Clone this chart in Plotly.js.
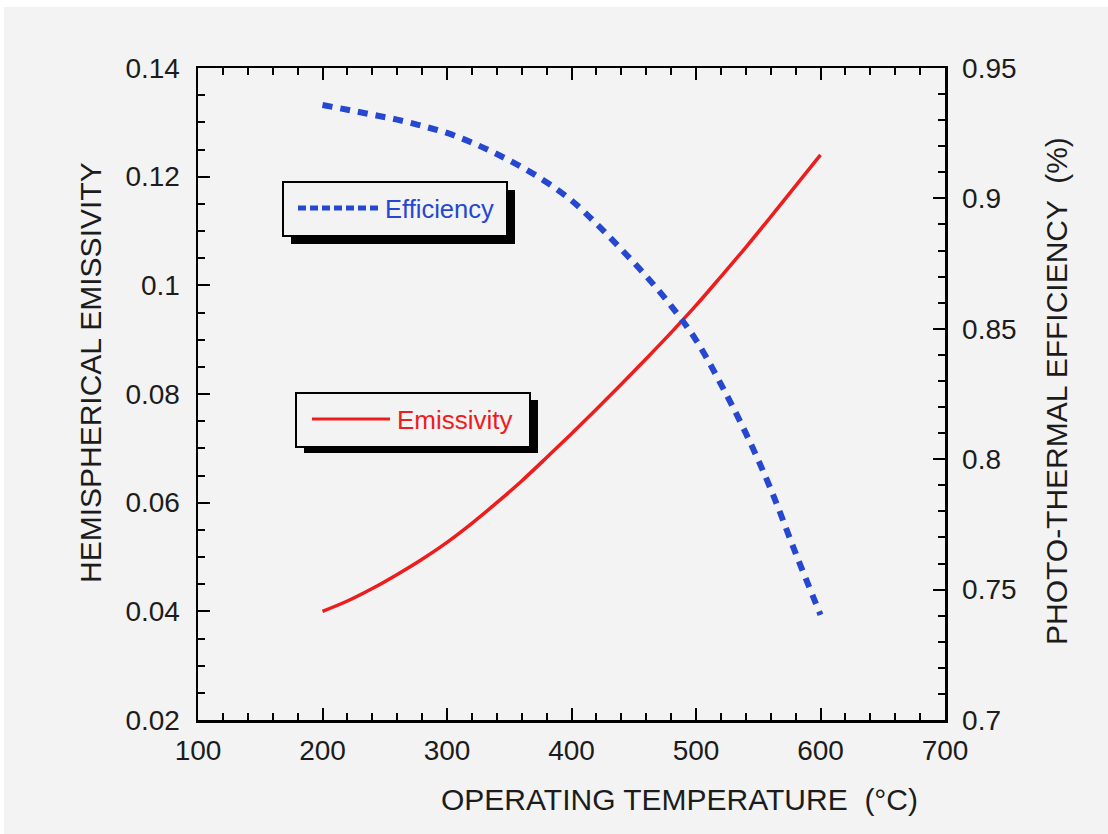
<!DOCTYPE html>
<html>
<head>
<meta charset="utf-8">
<script src="https://cdn.plot.ly/plotly-3.0.1.min.js"></script>
<style>
html,body{margin:0;padding:0;background:#ffffff;}
#chart{position:absolute;left:4px;top:7px;width:1104px;height:827px;}
</style>
</head>
<body>
<div id="chart"></div>
<script>
// Data
var temperature = [200,220,240,260,280,300,320,340,360,380,400,420,440,460,480,500,520,540,560,580,600];
var emissivity  = [0.0400,0.0419,0.0442,0.0468,0.0496,0.0527,0.0562,0.0600,0.0640,0.0683,0.0727,0.0772,0.0818,0.0865,0.0913,0.0963,0.1016,0.1070,0.1126,0.1183,0.1240];
var efficiency  = [0.9358,0.9340,0.9321,0.9302,0.9278,0.9251,0.9214,0.9170,0.9120,0.9062,0.8992,0.8903,0.8805,0.8702,0.8588,0.8457,0.8288,0.8100,0.7886,0.7640,0.7403];
var xTicks  = [100,200,300,400,500,600,700];
var yTicks  = [0.02,0.04,0.06,0.08,0.10,0.12,0.14];
var yTickText = ['0.02','0.04','0.06','0.08','0.1','0.12','0.14'];
var y2Ticks = [0.70,0.75,0.80,0.85,0.90,0.95];
var y2TickText = ['0.7','0.75','0.8','0.85','0.9','0.95'];

var FONT = 'Liberation Sans, Arial, sans-serif';
var INK = '#1c1c1c';
var BG = '#f3f3f3';
var BLUE = '#2647cf';
var RED = '#ee1d1d';

// plot area in page pixels: x 198..945, y 68..720
function px(x){ return (x-198)/747; }
function py(y){ return (720-y)/652; }

var traces = [
  {x: temperature, y: emissivity, type:'scatter', mode:'lines', name:'Emissivity',
   line:{color:RED, width:3.5, shape:'spline', smoothing:1}, yaxis:'y'},
  {x: temperature, y: efficiency, type:'scatter', mode:'lines', name:'Efficiency',
   line:{color:BLUE, width:6, dash:'10px,8px', shape:'spline', smoothing:1}, yaxis:'y2'}
];

function rect(x0,y0,x1,y1,fill,lw){
  return {type:'rect', xref:'paper', yref:'paper', x0:px(x0), x1:px(x1), y0:py(y1), y1:py(y0),
          fillcolor:fill, line:{color:'#000', width:lw}, layer:'above'};
}
function seg(x0,x1,y,color,w,dash){
  return {type:'line', xref:'paper', yref:'paper', x0:px(x0), x1:px(x1), y0:py(y), y1:py(y),
          line:{color:color, width:w, dash:dash}, layer:'above'};
}

var shapes = [
  rect(291,190,515,244,'#000',0),
  rect(283,182,507,236,BG,2),
  seg(298,378,208,BLUE,5,'8px,4px'),
  rect(304,400,538,453,'#000',0),
  rect(296,393,530,447,BG,2),
  seg(312,390,419,RED,3,'solid')
];

var annotations = [
  {text:'Efficiency', xref:'paper', yref:'paper', x:px(383), y:py(209), xanchor:'left', yanchor:'middle',
   showarrow:false, font:{family:FONT, size:25.5, color:BLUE}},
  {text:'Emissivity', xref:'paper', yref:'paper', x:px(395), y:py(420), xanchor:'left', yanchor:'middle',
   showarrow:false, font:{family:FONT, size:26, color:RED}},
  {text:'OPERATING TEMPERATURE  (°C)', xref:'paper', yref:'paper', x:px(679), y:py(799), xanchor:'center', yanchor:'middle',
   showarrow:false, font:{family:FONT, size:30, color:INK}},
  {text:'HEMISPHERICAL EMISSIVITY', xref:'paper', yref:'paper', x:px(90), y:py(373), xanchor:'center', yanchor:'middle',
   textangle:-90, showarrow:false, font:{family:FONT, size:30, color:INK}},
  {text:'PHOTO-THERMAL EFFICIENCY  (%)', xref:'paper', yref:'paper', x:px(1056), y:py(391), xanchor:'center', yanchor:'middle',
   textangle:-90, showarrow:false, font:{family:FONT, size:30, color:INK}}
];

var layout = {
  width:1104, height:827,
  margin:{l:194, r:163, t:61, b:114, pad:0},
  paper_bgcolor:BG, plot_bgcolor:BG,
  showlegend:false,
  font:{family:FONT, color:INK},
  xaxis:{range:[100,700], tickvals:xTicks, ticktext:xTicks.map(String),
    showline:true, linecolor:'#000', linewidth:2.5, mirror:'ticks',
    ticks:'inside', ticklen:12, tickwidth:2, tickcolor:'#000',
    minor:{dtick:20, ticks:'inside', ticklen:7, tickwidth:2, tickcolor:'#000', showgrid:false},
    showgrid:false, zeroline:false, ticklabelstandoff:4,
    tickfont:{family:FONT, size:28, color:INK}},
  yaxis:{range:[0.02,0.14], tickvals:yTicks, ticktext:yTickText,
    showline:true, linecolor:'#000', linewidth:2.5,
    ticks:'inside', ticklen:12, tickwidth:2, tickcolor:'#000',
    minor:{dtick:0.005, ticks:'inside', ticklen:7, tickwidth:2, tickcolor:'#000', showgrid:false},
    showgrid:false, zeroline:false, ticklabelstandoff:10,
    tickfont:{family:FONT, size:28, color:INK}},
  yaxis2:{range:[0.7,0.95], tickvals:y2Ticks, ticktext:y2TickText, overlaying:'y', side:'right',
    showline:true, linecolor:'#000', linewidth:2.5,
    ticks:'inside', ticklen:12, tickwidth:2, tickcolor:'#000',
    minor:{dtick:0.01, ticks:'inside', ticklen:7, tickwidth:2, tickcolor:'#000', showgrid:false},
    showgrid:false, zeroline:false, ticklabelstandoff:9,
    tickfont:{family:FONT, size:28, color:INK}},
  shapes:shapes,
  annotations:annotations
};

Plotly.newPlot('chart', traces, layout, {displayModeBar:false, staticPlot:true});
</script>
</body>
</html>
